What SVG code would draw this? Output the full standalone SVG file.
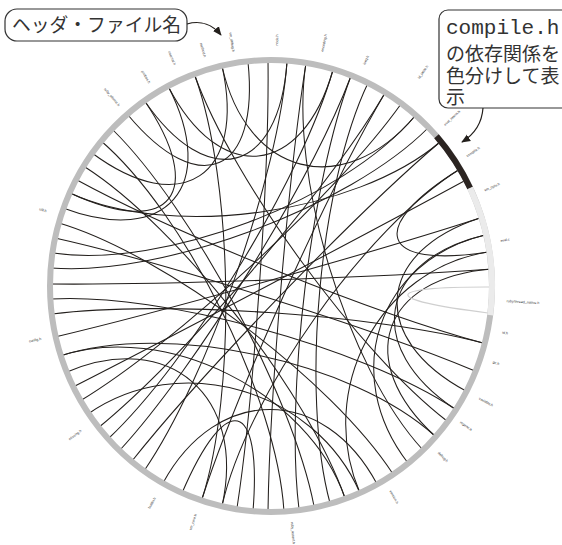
<svg xmlns="http://www.w3.org/2000/svg" width="562" height="545" viewBox="0 0 562 545">
<defs>
<style>
.ch{fill:none;stroke:#231f1c;stroke-width:1.05}
.lt{fill:none;stroke:#cfcfcf;stroke-width:1.2}
.lb{font-family:"Liberation Sans",Arial,sans-serif;font-size:3.6px;fill:#333;text-anchor:middle}
.jp{font-family:"Noto Sans CJK JP","Noto Sans",sans-serif;fill:#333}
.mono{font-family:"Liberation Mono","Courier New",monospace;fill:#333}
.box{fill:#fff;stroke:#333;stroke-width:1.2}
.arr{fill:none;stroke:#231f1c;stroke-width:1.2}
</style>
<marker id="ah" viewBox="0 0 10 10" refX="9" refY="5" markerWidth="9" markerHeight="9" markerUnits="userSpaceOnUse" orient="auto">
<path d="M0,0.8 L10,5 L0,9.2 z" fill="#231f1c"/>
</marker>
</defs>
<rect width="562" height="545" fill="#fff"/>

<g id="connectors" transform="translate(271,286)">
<path class="ch" d="M-211,70C-105.5,35 82,75 164,150"/>
<path class="ch" d="M-216,51C-108,25.5 104.5,-34 209,-68"/>
<path class="ch" d="M-219,28C-109.5,14 106,28.5 212,57"/>
<path class="ch" d="M-220,13C-110,6.5 92,61.5 184,123"/>
<path class="ch" d="M-221,-2C-110.5,-1 110.5,-8.5 221,-17"/>
<path class="ch" d="M-220,-18C-110,-9 78.5,-79 157,-158"/>
<path class="ch" d="M-218,-33C-109,-16.5 72,-85 144,-170"/>
<path class="ch" d="M-216,-48C-108,-24 102,42.5 204,85"/>
<path class="ch" d="M-212,-63C-106,-31.5 61,94 122,188"/>
<path class="ch" d="M-208,-78C-104,-39 -51.5,-100 -103,-200"/>
<path class="ch" d="M-201,-93C-100.5,-46.5 -63.5,-93 -127,-186"/>
<path class="ch" d="M-194,-106C-97,-53 106,28.5 212,57"/>
<path class="ch" d="M-186,-119C-93,-59.5 37,106 74,212"/>
<path class="ch" d="M-179,-133C-89.5,-66.5 -24.5,-110 -49,-220"/>
<path class="ch" d="M-171,-146C-85.5,-73 6.5,113 13,226"/>
<path class="ch" d="M-158,-156C-79,-78 21.5,110 43,220"/>
<path class="ch" d="M-143,-171C-71.5,-85.5 -11.5,-112 -23,-224"/>
<path class="ch" d="M-76,-210C-38,-105 -34.5,106.5 -69,213"/>
<path class="ch" d="M-3,-226C-1.5,-113 -17,111 -34,222"/>
<path class="ch" d="M16,-224C8,-112 -63.5,92.5 -127,185"/>
<path class="ch" d="M35,-223C17.5,-111.5 -1.5,113 -3,226"/>
<path class="ch" d="M62,-216C31,-108 -81.5,76.5 -163,153"/>
<path class="ch" d="M80,-210C40,-105 -75.5,82 -151,164"/>
<path class="ch" d="M97,-203C48.5,-101.5 29.5,108.5 59,217"/>
<path class="ch" d="M114,-193C57,-96.5 -86.5,71 -173,142"/>
<path class="ch" d="M130,-182C65,-91 -95.5,57.5 -191,115"/>
<path class="ch" d="M169,-144C84.5,-72 -69.5,87.5 -139,175"/>
<path class="ch" d="M189,-117C94.5,-58.5 108.5,-17 217,-34"/>
<path class="ch" d="M195,-106C97.5,-53 -99,50.5 -198,101"/>
<path class="ch" d="M209,-68C104.5,-34 97.5,52.5 195,105"/>
<path class="ch" d="M214,-51C107,-25.5 68.5,88.5 137,177"/>
<path class="ch" d="M217,-34C108.5,-17 44.5,103.5 89,207"/>
<path class="ch" d="M106,198C53,99 -54,98.5 -108,197"/>
<path class="ch" d="M89,207C44.5,103.5 -91.5,64 -183,128"/>
<path class="ch" d="M-89,207C-44.5,103.5 -9,112.5 -18,225"/>
<path class="ch" d="M-49,220C-24.5,110 -102,43 -204,86"/>
<path class="ch" d="M28,223C14,111.5 40,-105 80,-210"/>
<path class="ch" d="M169,-144C84.5,-72 -100.5,-46.5 -201,-93"/>
<path class="ch" d="M189,-117C94.5,-58.5 -24.5,110 -49,220"/>
<path class="ch" d="M-69,213C-34.5,106.5 57,-96.5 114,-193"/>
<path class="ch" d="M74,212C37,106 -105.5,35 -211,70"/>
<path class="ch" d="M164,150C82,75 110.5,-8.5 221,-17"/>
<path class="ch" d="M184,123C92,61.5 107,-25.5 214,-51"/>
<path class="ch" d="M-103,-200C-51.5,-100 31,-108 62,-216"/>
<path class="ch" d="M-49,-220C-24.5,-110 72,-85 144,-170"/>
<path class="ch" d="M-127,-186C-63.5,-93 8,-112 16,-224"/>
<path class="ch" d="M152,164C76,82 17.5,-111.5 35,-223"/>
<path class="ch" d="M176,135C88,67.5 -38,-105 -76,-210"/>
<path class="lt" d="M221,1C110.5,0.5 108.5,13.5 217,27"/>
</g>

<g id="ring">
<ellipse cx="271" cy="286" rx="221" ry="226" fill="none" stroke="#bdbdbd" stroke-width="6"/>
</g>
<g id="node-compile-h">
<path d="M436.5,136.2 A221,226 0 0 1 470.1,188" fill="none" stroke="#2b2421" stroke-width="6"/>
<text class="lb" transform="translate(473,152) rotate(-33.6)" dy="1.2">compile.h</text>
</g>
<g id="node-vm-opts-h">
<path d="M470.1,188 A221,226 0 0 1 490.2,315.1" fill="none" stroke="#ebebeb" stroke-width="6"/>
<text class="lb" transform="translate(492,187) rotate(-24)" dy="1.2">vm_opts.h</text>
</g>

<g id="labels">
<g id="n1"><text class="lb" transform="translate(112,97) rotate(50)" dy="1.2">ruby_atomic.h</text></g>
<g id="n2"><text class="lb" transform="translate(146,77) rotate(59)" dy="1.2">probes.h</text></g>
<g id="n3"><text class="lb" transform="translate(172,58) rotate(66.5)" dy="1.2">internal.h</text></g>
<g id="n4"><text class="lb" transform="translate(203,50) rotate(74)" dy="1.2">method.h</text></g>
<g id="n5"><text class="lb" transform="translate(232,42) rotate(81)" dy="1.2">vm_debug.h</text></g>
<g id="n6"><text class="lb" transform="translate(277,40) rotate(-88.6)" dy="1.2">node.h</text></g>
<g id="n7"><text class="lb" transform="translate(324,43) rotate(-77.7)" dy="1.2">encoding.h</text></g>
<g id="n8"><text class="lb" transform="translate(366,60) rotate(-67)" dy="1.2">iseq.h</text></g>
<g id="n9"><text class="lb" transform="translate(423,72) rotate(-54.6)" dy="1.2">id_table.h</text></g>
<g id="n10"><text class="lb" transform="translate(452,118) rotate(-43)" dy="1.2">eval_intern.h</text></g>
<g id="n13"><text class="lb" transform="translate(505,240) rotate(-11)" dy="1.2">eval.c</text></g>
<g id="n14"><text class="lb" transform="translate(523,302) rotate(3.6)" dy="1.2">ruby/thread_native.h</text></g>
<g id="n15"><text class="lb" transform="translate(505,333) rotate(11.4)" dy="1.2">id.h</text></g>
<g id="n16"><text class="lb" transform="translate(496,363) rotate(18.9)" dy="1.2">gc.h</text></g>
<g id="n17"><text class="lb" transform="translate(486,402) rotate(28.4)" dy="1.2">variable.h</text></g>
<g id="n18"><text class="lb" transform="translate(466,426) rotate(35.7)" dy="1.2">regenc.h</text></g>
<g id="n19"><text class="lb" transform="translate(443,457) rotate(44.8)" dy="1.2">debug.h</text></g>
<g id="n20"><text class="lb" transform="translate(394,497) rotate(59.8)" dy="1.2">version.h</text></g>
<g id="n21"><text class="lb" transform="translate(293,533) rotate(85)" dy="1.2">ruby_assert.h</text></g>
<g id="n22"><text class="lb" transform="translate(193,522) rotate(-71.7)" dy="1.2">vm_core.h</text></g>
<g id="n23"><text class="lb" transform="translate(152,503) rotate(-61.3)" dy="1.2">builtin.h</text></g>
<g id="n24"><text class="lb" transform="translate(75,435) rotate(-37.2)" dy="1.2">missing.h</text></g>
<g id="n25"><text class="lb" transform="translate(35,340) rotate(-13)" dy="1.2">config.h</text></g>
<g id="n26"><text class="lb" transform="translate(43,210) rotate(18.4)" dy="1.2">util.h</text></g>
</g>

<g id="callout-header">
<rect class="box" x="5" y="9" width="182" height="32" rx="12"/>
<text class="jp" x="12" y="32" font-size="18.8">ヘッダ・ファイル名</text>
<path class="arr" d="M187,24 C201,20 213,25 221,35" marker-end="url(#ah)"/>
</g>

<g id="callout-compile">
<rect class="box" x="439" y="10" width="132" height="98" rx="9"/>
<text class="jp" font-size="19"><tspan class="mono" x="446" y="34" font-size="21">compile.h</tspan><tspan x="446" y="61">の依存関係を</tspan><tspan x="446" y="83">色分けして表</tspan><tspan x="446" y="104">示</tspan></text>
<path class="arr" d="M483,108 C482,122 475,134 462,142" marker-end="url(#ah)"/>
</g>
</svg>
